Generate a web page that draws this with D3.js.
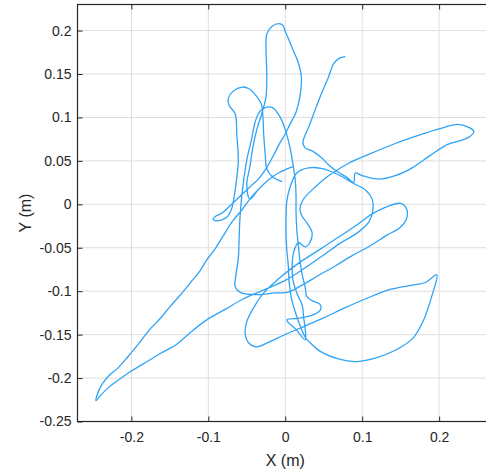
<!DOCTYPE html>
<html><head><meta charset="utf-8">
<script src="https://cdn.jsdelivr.net/npm/d3@7"></script>
<style>html,body{margin:0;padding:0;background:#fff;}svg{display:block;}</style>
</head><body>
<svg id="chart" width="486" height="475"></svg>
<script>
// Trajectory (metres)
const trajX = [
0.078,0.070,0.063,0.056,0.045,0.036,0.030,0.026,
0.023,0.026,0.036,0.048,0.058,0.067,0.080,0.089,0.091,0.100,0.121,0.143,0.165,0.188,0.211,0.230,0.240,0.245,0.240,0.224,0.201,0.172,0.143,0.110,0.082,0.058,0.039,0.023,
0.019,0.022,0.028,0.035,0.032,0.026,0.017,
0.011,0.009,0.010,0.015,0.022,0.024,0.026,0.026,
0.014,0.002,
0.019,0.037,0.046,0.045,0.035,0.028,0.026,
0.022,0.019,0.017,0.015,0.014,0.014,0.013,0.010,0.006,0.000,-0.007,-0.016,-0.024,-0.033,-0.039,-0.044,-0.050,-0.054,-0.057,-0.059,-0.060,-0.061,-0.064,-0.065,-0.057,-0.035,-0.013,0.004,
0.022,0.043,0.065,0.087,0.110,0.131,0.149,0.157,0.158,0.150,0.134,0.113,0.091,0.069,
0.043,0.017,-0.009,-0.028,-0.041,-0.050,-0.052,-0.048,-0.037,-0.022,0.002,0.026,0.049,0.078,0.104,0.136,0.165,0.182,0.197,
0.191,0.179,0.166,0.143,0.117,0.091,0.069,0.045,0.032,0.026,
0.019,0.013,0.008,0.005,0.004,0.002,0.001,0.001,0.002,0.006,
0.015,0.030,0.048,0.069,0.089,0.105,0.113,0.114,0.109,0.095,
0.071,0.049,0.026,0.001,-0.026,-0.055,-0.078,-0.102,-0.124,-0.141,-0.163,-0.185,-0.202,-0.215,-0.230,-0.241,-0.246,
-0.244,-0.238,-0.229,-0.217,-0.205,-0.191,-0.176,-0.163,-0.150,-0.137,-0.124,-0.112,-0.102,-0.091,-0.081,-0.069,-0.056,-0.046,-0.035,-0.022,-0.009,0.009,
-0.009,-0.022,-0.035,-0.046,-0.050,
-0.046,-0.042,-0.037,-0.030,-0.025,-0.024,-0.025,-0.024,-0.017,-0.008,-0.003,0.000,0.004,0.010,0.017,0.021,0.019,0.014,0.006,0.000,-0.008,-0.016,-0.025,-0.035,-0.046,-0.059,-0.072,-0.082,-0.091,-0.094,-0.089,-0.076,-0.070,-0.066,-0.063,-0.061,-0.063,-0.065,-0.073,-0.074,-0.068,-0.056,-0.047,-0.038,-0.031,-0.029,-0.028,-0.026,-0.024,-0.017,-0.004
];
const trajY = [
0.170,0.168,0.162,0.146,0.123,0.102,0.088,0.080,
0.071,0.065,0.061,0.053,0.044,0.038,0.031,0.025,0.036,0.033,0.029,0.033,0.042,0.056,0.069,0.074,0.078,0.084,0.088,0.092,0.087,0.079,0.070,0.058,0.047,0.034,0.020,0.005,
-0.006,-0.014,-0.021,-0.033,-0.044,-0.049,-0.044,
-0.055,-0.070,-0.087,-0.102,-0.116,-0.131,-0.144,-0.156,
-0.144,-0.133,
-0.131,-0.127,-0.121,-0.115,-0.111,-0.106,-0.096,
-0.081,-0.064,-0.047,-0.029,-0.009,0.011,0.028,0.046,0.066,0.086,0.101,0.111,0.112,0.107,0.095,0.074,0.051,0.028,0.005,-0.018,-0.041,-0.062,-0.081,-0.095,-0.102,-0.104,-0.102,-0.101,
-0.093,-0.082,-0.071,-0.059,-0.048,-0.036,-0.027,-0.018,-0.006,0.001,-0.002,-0.011,-0.025,-0.038,
-0.053,-0.068,-0.086,-0.102,-0.119,-0.135,-0.150,-0.159,-0.164,-0.159,-0.149,-0.140,-0.131,-0.119,-0.109,-0.098,-0.093,-0.090,-0.081,
-0.104,-0.135,-0.154,-0.168,-0.177,-0.181,-0.178,-0.169,-0.159,-0.153,
-0.139,-0.124,-0.108,-0.089,-0.071,-0.052,-0.034,-0.015,0.003,0.019,
0.036,0.042,0.041,0.034,0.024,0.016,0.006,-0.006,-0.020,-0.032,
-0.045,-0.059,-0.073,-0.087,-0.098,-0.109,-0.121,-0.133,-0.148,-0.161,-0.172,-0.184,-0.193,-0.201,-0.211,-0.221,-0.226,
-0.218,-0.207,-0.197,-0.188,-0.176,-0.161,-0.144,-0.132,-0.118,-0.105,-0.091,-0.078,-0.064,-0.051,-0.037,-0.020,-0.006,0.006,0.017,0.028,0.036,0.043,
0.036,0.028,0.017,0.006,0.023,
0.043,0.066,0.086,0.106,0.124,0.149,0.178,0.196,0.205,0.208,0.206,0.199,0.191,0.178,0.163,0.146,0.124,0.106,0.092,0.081,0.069,0.055,0.041,0.029,0.020,0.009,-0.002,-0.010,-0.014,-0.017,-0.019,-0.015,-0.006,0.011,0.031,0.051,0.080,0.104,0.114,0.122,0.130,0.135,0.133,0.125,0.115,0.101,0.080,0.057,0.041,0.032,0.026
];
const xTicks = [-0.2, -0.1, 0, 0.1, 0.2];
const xTickLabels = ["-0.2", "-0.1", "0", "0.1", "0.2"];
const yTicks = [-0.25, -0.2, -0.15, -0.1, -0.05, 0, 0.05, 0.1, 0.15, 0.2];
const yTickLabels = ["-0.25", "-0.2", "-0.15", "-0.1", "-0.05", "0", "0.05", "0.1", "0.15", "0.2"];
const xLabel = "X (m)";
const yLabel = "Y (m)";

const svg = d3.select("#chart");
const x = d3.scaleLinear().domain([-0.27, 0.27]).range([77.5, 493]);
const y = d3.scaleLinear().domain([-0.25, 0.23]).range([421.5, 4.5]);
const [x0, x1] = x.range();
const [yb, yt] = y.range();
const font = "'Liberation Sans', Arial, Helvetica, sans-serif";
const axisColor = "#262626";

// grid
const g = svg.append("g");
g.selectAll(".gx").data(xTicks).join("line")
  .attr("x1", d => x(d)).attr("x2", d => x(d)).attr("y1", yb).attr("y2", yt)
  .attr("stroke", "#dedede").attr("stroke-width", 1);
g.selectAll(".gy").data(yTicks).join("line")
  .attr("x1", x0).attr("x2", x1).attr("y1", d => y(d)).attr("y2", d => y(d))
  .attr("stroke", "#dedede").attr("stroke-width", 1);

// trajectory
const pts = trajX.map((v, i) => [v, trajY[i]]);
svg.append("path").datum(pts)
  .attr("d", d3.line().x(d => x(d[0])).y(d => y(d[1])).curve(d3.curveCatmullRom.alpha(0.5)))
  .attr("fill", "none").attr("stroke", "#2ea3f7").attr("stroke-width", 1.3)
  .attr("stroke-linejoin", "round");

// axes box
svg.append("rect").attr("x", x0).attr("y", yt).attr("width", x1 - x0).attr("height", yb - yt)
  .attr("fill", "none").attr("stroke", axisColor).attr("stroke-width", 1.2);

// ticks (inward)
const bx = d3.axisBottom(x).tickValues(xTicks).tickSizeInner(-5).tickSizeOuter(0)
  .tickPadding(11).tickFormat((d, i) => xTickLabels[i]);
const ax = svg.append("g").attr("transform", `translate(0,${yb})`).call(bx);
const ly = d3.axisLeft(y).tickValues(yTicks).tickSizeInner(-5).tickSizeOuter(0)
  .tickPadding(6).tickFormat((d, i) => yTickLabels[i]);
const ay = svg.append("g").attr("transform", `translate(${x0},0)`).call(ly);
const tx = d3.axisTop(x).tickValues(xTicks).tickSizeInner(-5).tickSizeOuter(0).tickFormat("");
const at = svg.append("g").attr("transform", `translate(0,${yt})`).call(tx);
[ax, ay, at].forEach(a => {
  a.select(".domain").remove();
  a.selectAll("line").attr("stroke", axisColor).attr("stroke-width", 1);
  a.selectAll("text").attr("fill", axisColor).style("font-family", font).style("font-size", "14px");
});

svg.append("text").attr("x", x(0)).attr("y", 466).attr("text-anchor", "middle")
  .attr("fill", axisColor).style("font-family", font).style("font-size", "16px").text(xLabel);
svg.append("text").attr("transform", `translate(31,213) rotate(-90)`)
  .attr("text-anchor", "middle").attr("fill", axisColor)
  .style("font-family", font).style("font-size", "16px").text(yLabel);
</script>
</body></html>
